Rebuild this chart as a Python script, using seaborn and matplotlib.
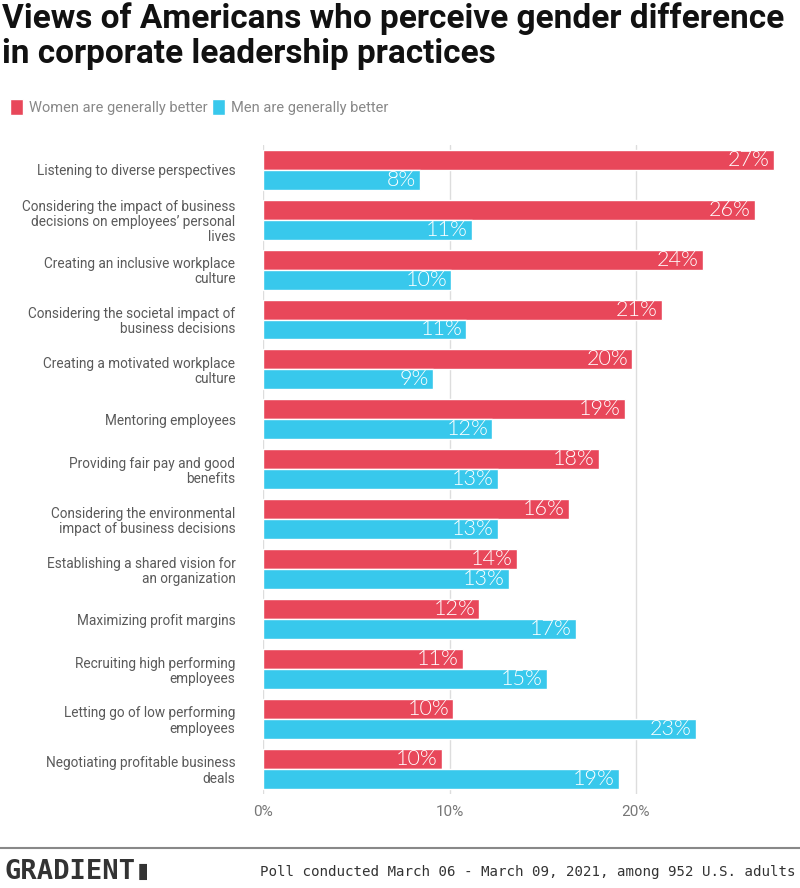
import pandas as pd
import matplotlib.pyplot as plt
import seaborn as sns

# Dados
practices = [
    "Listening to diverse perspectives",
    "Considering the impact of business\ndecisions on employees\u2019 personal\nlives",
    "Creating an inclusive workplace\nculture",
    "Considering the societal impact of\nbusiness decisions",
    "Creating a motivated workplace\nculture",
    "Mentoring employees",
    "Providing fair pay and good\nbenefits",
    "Considering the environmental\nimpact of business decisions",
    "Establishing a shared vision for\nan organization",
    "Maximizing profit margins",
    "Recruiting high performing\nemployees",
    "Letting go of low performing\nemployees",
    "Negotiating profitable business\ndeals",
]
women = [27.4, 26.4, 23.6, 21.4, 19.8, 19.4, 18.0, 16.4, 13.6, 11.6, 10.7, 10.2, 9.6]
men = [8.4, 11.2, 10.1, 10.9, 9.1, 12.3, 12.6, 12.6, 13.2, 16.8, 15.2, 23.2, 19.1]
groups = ["Women are generally better", "Men are generally better"]
colors = ["#E8475A", "#38C8EC"]
xticks = [0, 10, 20]

df = pd.DataFrame({
    "practice": practices * 2,
    "value": women + men,
    "group": [groups[0]] * len(practices) + [groups[1]] * len(practices),
})

sns.set_theme(style="white")
plt.rcParams["font.family"] = ["Roboto", "DejaVu Sans"]

fig = plt.figure(figsize=(8, 8.88), dpi=100)
ax = fig.add_axes([0.329, 0.106, 0.671, 0.731])

sns.barplot(data=df, y="practice", x="value", hue="group", orient="h",
            palette=colors, saturation=1, width=0.8, ax=ax, zorder=2)

ax.set_xlim(0, 28.8)
ax.set_ylim(12.5, -0.5)
ax.set_xticks(xticks)
ax.set_xticklabels([f"{t}%" for t in xticks], fontsize=11, color="#777777")
ax.tick_params(axis="x", length=0, pad=8)
ax.tick_params(axis="y", length=0, pad=20)
for lbl in ax.get_yticklabels():
    lbl.set_fontsize(9.8)
    lbl.set_color("#5a5a5a")
    lbl.set_linespacing(1.1)
ax.set_xlabel("")
ax.set_ylabel("")
for x in xticks:
    ax.axvline(x, color="#dddddd", lw=1, zorder=1)
for s in ax.spines.values():
    s.set_visible(False)

# rótulos dentro das barras
for cont in ax.containers:
    for p in cont.patches:
        w = p.get_width()
        ax.annotate(f"{round(w)}%", (w, p.get_y() + p.get_height() / 2),
                    xytext=(-3, 0), textcoords="offset points",
                    ha="right", va="center", color="white",
                    fontsize=15.5, fontweight=300,
                    family=["Lato", "DejaVu Sans"], zorder=3)

handles, labels = ax.get_legend_handles_labels()
ax.legend_.remove()
fig.legend(handles, labels, loc="upper left", bbox_to_anchor=(0.005, 0.895),
           ncol=2, frameon=False, fontsize=10.5, labelcolor="#888888",
           handlelength=0.9, handleheight=1.3, handletextpad=0.4,
           columnspacing=0.3, borderaxespad=0)

fig.text(0.003, 0.998,
         "Views of Americans who perceive gender difference\nin corporate leadership practices",
         ha="left", va="top", fontsize=24, fontweight="bold", color="#111111",
         family=["Roboto", "DejaVu Sans"], linespacing=1.12)

fig.add_artist(plt.Line2D([0, 1], [0.045, 0.045], color="#888888", lw=1.5,
                          transform=fig.transFigure))
fig.text(0.006, 0.018, "GRADIENT\u25AE", ha="left", va="center", fontsize=19.5,
         fontweight="bold", color="#333333", family=["DejaVu Sans Mono", "DejaVu Sans"])
fig.text(0.994, 0.018, "Poll conducted March 06 - March 09, 2021, among 952 U.S. adults",
         ha="right", va="center", fontsize=10.15, color="#333333",
         family=["DejaVu Sans Mono"])

fig.savefig("out.png", dpi=100)
